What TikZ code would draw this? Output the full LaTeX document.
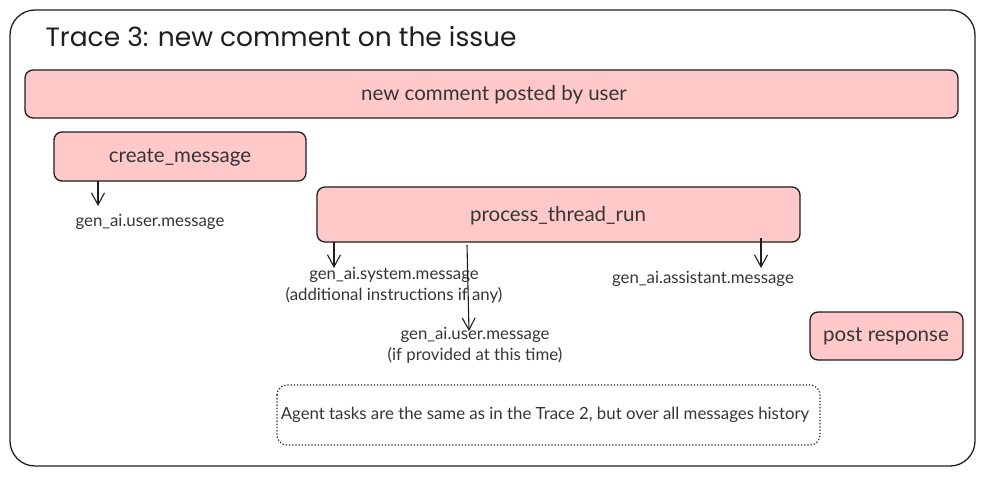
\documentclass[tikz,border=0pt]{standalone}
\usepackage{fontspec}
\setmainfont{Lato}
\newfontfamily\titlefont{Poppins}
\usetikzlibrary{arrows.meta}
\definecolor{boxpink}{HTML}{FFC9C9}
\definecolor{ink}{HTML}{1E1E1E}
\begin{document}
\begin{tikzpicture}[x=1pt,y=-1pt,
  pinkbox/.style={draw=ink, line width=1.3pt, fill=boxpink, rounded corners=8pt},
  lbl/.style={font=\fontsize{20.5}{24}\selectfont, text=ink!90},
  small/.style={font=\fontsize{16.8}{21}\selectfont, text=ink!90, align=center},
  arr/.style={draw=ink, line width=1.1pt, -{Straight Barb[length=12pt,width=13pt]}}]
\useasboundingbox (0,0) rectangle (984,476);
\draw[draw=ink, line width=1.3pt, rounded corners=25pt] (10,10) rectangle (975,466);
\node[anchor=west, font=\titlefont\fontsize{26.5}{28}\selectfont, text=ink] (title) at (42,37) {Trace 3: new comment on the issue};

\draw[pinkbox] (25,70) rectangle (958,118);
\node[lbl] (ncp) at (494,95) {new comment posted by user};

\draw[pinkbox] (54,132) rectangle (306,181);
\node[lbl] (cm) at (180,157) {create\_message};
\coordinate (cmout) at (98,181);
\node[small] (u1) at (150,222) {gen\_ai.user.message};
\draw[arr] (cmout) -- (98,206);

\draw[pinkbox] (317,187) rectangle (800,242);
\node[lbl] (ptr) at (558,216) {process\_thread\_run};

\node[small] (sys) at (394,285) {gen\_ai.system.message\\(additional instructions if any)};
\node[small] (u2) at (475,345) {gen\_ai.user.message\\(if provided at this time)};
\node[small] (asst) at (703,279) {gen\_ai.assistant.message};
\coordinate (p1) at (334,242);
\coordinate (p2) at (467,245);
\coordinate (p3) at (761,238);
\draw[arr] (p1) -- (334,268);
\draw[arr] (p2) -- (469,331);
\draw[arr] (p3) -- (761,268);

\draw[pinkbox] (810,312) rectangle (963,360);
\node[lbl] (post) at (886,336) {post response};

\draw[draw=ink, line width=1.2pt, dotted, rounded corners=10pt] (277,385) rectangle (820,445);
\node[small] (note) at (545,415) {Agent tasks are the same as in the Trace 2, but over all messages history};
\end{tikzpicture}
\end{document}
